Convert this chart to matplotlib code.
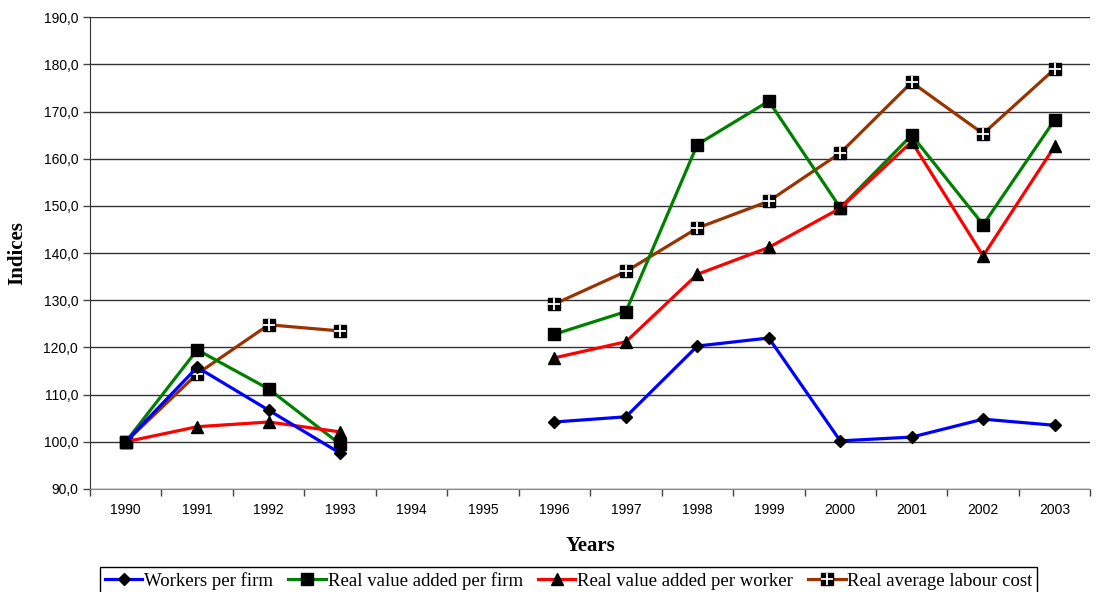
import matplotlib
matplotlib.use("Agg")
import matplotlib.pyplot as plt
from matplotlib.lines import Line2D
from matplotlib.ticker import FuncFormatter, FixedLocator
import numpy as np

nan = np.nan

years = ["1990", "1991", "1992", "1993", "1994", "1995", "1996",
         "1997", "1998", "1999", "2000", "2001", "2002", "2003"]

workers_per_firm = [100.0, 115.8, 106.7, 97.6, nan, nan, 104.2,
                    105.3, 120.3, 122.0, 100.2, 101.0, 104.8, 103.5]
va_per_firm = [100.0, 119.5, 111.2, 99.5, nan, nan, 122.8,
               127.6, 163.0, 172.2, 149.6, 165.0, 146.0, 168.2]
va_per_worker = [100.0, 103.2, 104.2, 102.1, nan, nan, 117.8,
                 121.2, 135.5, 141.2, 149.5, 163.6, 139.4, 162.6]
labour_cost = [100.0, 114.4, 124.8, 123.5, nan, nan, 129.2,
               136.1, 145.3, 151.0, 161.2, 176.2, 165.3, 179.0]

SERIF = "Liberation Serif"
SANS = "Liberation Sans"

fig = plt.figure(figsize=(10.98, 5.92), dpi=100)
ax = fig.add_axes([0.082, 0.174, 0.911, 0.797])

x = np.arange(len(years))
lw = 2.3

ax.plot(x, workers_per_firm, color="#0000ff", lw=lw, marker="D", ms=6.5,
        mfc="black", mec="black", zorder=5)
ax.plot(x, va_per_firm, color="#008000", lw=lw, marker="s", ms=8,
        mfc="black", mec="black", zorder=4)
ax.plot(x, va_per_worker, color="#ff0000", lw=lw, marker="^", ms=8.5,
        mfc="black", mec="black", zorder=4)
ax.plot(x, labour_cost, color="#993300", lw=lw, marker="s", ms=8,
        mfc="black", mec="black", zorder=3)
ax.plot(x, labour_cost, lw=0, marker="+", ms=8, mew=1.3, color="white", zorder=3.5)

ax.set_xlim(-0.5, len(years) - 0.5)
ax.set_ylim(90, 190)
ax.set_yticks(np.arange(90, 191, 10))
ax.yaxis.set_major_formatter(FuncFormatter(lambda v, p: f"{v:.1f}".replace(".", ",")))
ax.yaxis.grid(True, color="#333333", lw=1.0)
ax.set_axisbelow(True)

ax.set_xticks(x)
ax.set_xticklabels(years)
ax.xaxis.set_minor_locator(FixedLocator(np.arange(-0.5, len(years), 1.0)))
ax.tick_params(axis="x", which="major", length=0, pad=10)
ax.tick_params(axis="x", which="minor", length=5, width=1, color="#444444")
ax.tick_params(axis="y", length=5, width=1, color="#444444")
for lbl in ax.get_xticklabels() + ax.get_yticklabels():
    lbl.set_fontfamily(SANS)
    lbl.set_fontsize(10)

for s in ["top", "right"]:
    ax.spines[s].set_visible(False)
ax.spines["left"].set_color("#333333")
ax.spines["bottom"].set_color("#888888")

ax.set_xlabel("Years", fontfamily=SERIF, fontweight="bold", fontsize=15, labelpad=14)
ax.set_ylabel("Indices", fontfamily=SERIF, fontweight="bold", fontsize=15, labelpad=12)

handles = [
    Line2D([], [], color="#0000ff", lw=lw, marker="D", ms=6.5, mfc="black", mec="black"),
    Line2D([], [], color="#008000", lw=lw, marker="s", ms=8, mfc="black", mec="black"),
    Line2D([], [], color="#ff0000", lw=lw, marker="^", ms=8.5, mfc="black", mec="black"),
    (Line2D([], [], color="#993300", lw=lw, marker="s", ms=8, mfc="black", mec="black"),
     Line2D([], [], lw=0, marker="+", ms=8, mew=1.3, color="white")),
]
labels = ["Workers per firm", "Real value added per firm",
          "Real value added per worker", "Real average labour cost"]
leg = fig.legend(handles, labels, loc="center", bbox_to_anchor=(0.518, 0.019), ncol=4,
                 prop={"family": SERIF, "size": 13.5}, frameon=True, fancybox=False,
                 edgecolor="black", framealpha=1, handlelength=2.0, handletextpad=0.1,
                 columnspacing=0.8, borderpad=0.25, borderaxespad=0)
leg.get_frame().set_linewidth(1.0)

fig.savefig("out.png", dpi=100)
